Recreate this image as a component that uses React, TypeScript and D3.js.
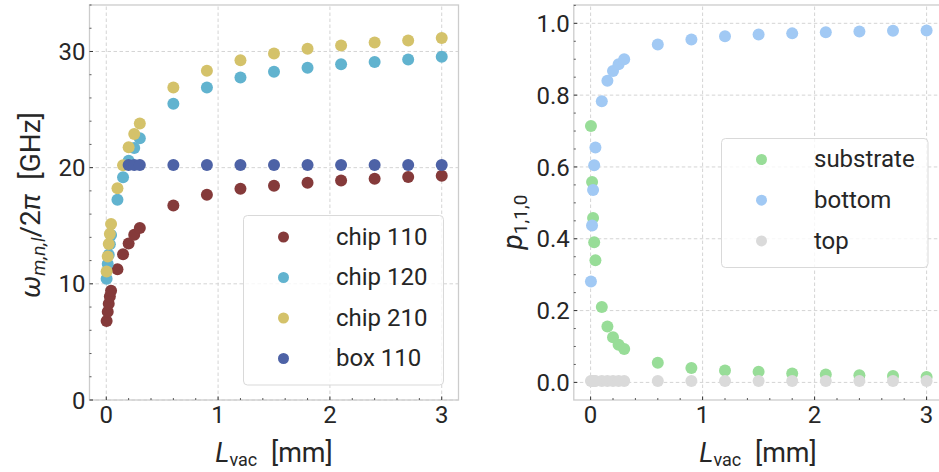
import React from "react";
import * as d3 from "d3";

const L_VAC = [0.003, 0.013, 0.022, 0.032, 0.043, 0.1, 0.15, 0.2, 0.25, 0.3, 0.6, 0.9, 1.2, 1.5, 1.8, 2.1, 2.4, 2.7, 3.0];
const L_VAC_BOX = [0.2, 0.25, 0.3, 0.6, 0.9, 1.2, 1.5, 1.8, 2.1, 2.4, 2.7, 3.0];

const chip110 = [6.81, 7.59, 8.28, 8.91, 9.4, 11.26, 12.55, 13.48, 14.22, 14.8, 16.75, 17.67, 18.19, 18.45, 18.7, 18.9, 19.05, 19.2, 19.31];
const chip120 = [10.43, 11.7, 12.5, 13.4, 14.2, 17.24, 19.17, 20.6, 21.7, 22.53, 25.5, 26.9, 27.75, 28.25, 28.6, 28.9, 29.1, 29.3, 29.54];
const chip210 = [11.06, 12.36, 13.42, 14.28, 15.14, 18.22, 20.2, 21.75, 22.9, 23.8, 26.9, 28.35, 29.25, 29.83, 30.23, 30.52, 30.78, 30.95, 31.15];
const box110 = [20.23, 20.23, 20.23, 20.23, 20.23, 20.23, 20.23, 20.23, 20.23, 20.23, 20.23, 20.23];

const substrate = [0.714, 0.558, 0.458, 0.39, 0.34, 0.21, 0.156, 0.126, 0.105, 0.093, 0.055, 0.04, 0.033, 0.03, 0.025, 0.022, 0.02, 0.018, 0.015];
const bottom = [0.281, 0.437, 0.536, 0.605, 0.654, 0.783, 0.84, 0.867, 0.886, 0.9, 0.941, 0.955, 0.964, 0.969, 0.972, 0.975, 0.977, 0.979, 0.98];
const top = [0.004, 0.004, 0.004, 0.004, 0.004, 0.004, 0.004, 0.004, 0.004, 0.004, 0.004, 0.004, 0.004, 0.004, 0.004, 0.004, 0.004, 0.004, 0.004];

const leftNames = ["chip 110", "chip 120", "chip 210", "box 110"];
const rightNames = ["substrate", "bottom", "top"];
const xTicks = [0, 1, 2, 3];
const leftYTicks = [0, 10, 20, 30];
const rightYTicks = [0, 0.2, 0.4, 0.6, 0.8, 1.0];

const FONT = "Roboto, 'DejaVu Sans', sans-serif";
const FS = 24;
const TXT = "#262626";
const GRID = "#d4d4d4";
const SPINE = "#cccccc";
const R = 6;

const leftColors = ["#853a3a", "#61b3cf", "#d4c26a", "#4d62a6"];
const rightColors = ["#98dd98", "#a1c9f4", "#dadada"];

function Panel({ x, y, xTicksMinor, yTicksMinor, yTicks, yFmt, children }: any) {
  const [x0, x1] = x.range();
  const [y0, y1] = y.range();
  return (
    <g>
      {xTicks.map((t) => (
        <line key={"gx" + t} x1={x(t)} x2={x(t)} y1={y0} y2={y1} stroke={GRID} strokeWidth={1} strokeDasharray="3.5,2.5" />
      ))}
      {yTicks.map((t: number) => (
        <line key={"gy" + t} x1={x0} x2={x1} y1={y(t)} y2={y(t)} stroke={GRID} strokeWidth={1} strokeDasharray="3.5,2.5" />
      ))}
      <rect x={x0} y={y1} width={x1 - x0} height={y0 - y1} fill="none" stroke={SPINE} strokeWidth={1.3} />
      {xTicks.map((t) => (
        <g key={"tx" + t}>
          <line x1={x(t)} x2={x(t)} y1={y0} y2={y0 - 3.5} stroke="#333" strokeWidth={1} />
          <text x={x(t)} y={y0 + 23} textAnchor="middle" fontSize={FS} fill={TXT} fontFamily={FONT}>{t}</text>
        </g>
      ))}
      {xTicksMinor.map((t: number) => (
        <line key={"mx" + t} x1={x(t)} x2={x(t)} y1={y0} y2={y0 - 2} stroke="#333" strokeWidth={0.8} />
      ))}
      {yTicks.map((t: number) => (
        <g key={"ty" + t}>
          <line x1={x0} x2={x0 + 3.5} y1={y(t)} y2={y(t)} stroke="#333" strokeWidth={1} />
          <text x={x0 - 4} y={y(t)} dy="0.36em" textAnchor="end" fontSize={FS} fill={TXT} fontFamily={FONT}>{yFmt(t)}</text>
        </g>
      ))}
      {yTicksMinor.map((t: number) => (
        <line key={"my" + t} x1={x0} x2={x0 + 2} y1={y(t)} y2={y(t)} stroke="#333" strokeWidth={0.8} />
      ))}
      {children}
    </g>
  );
}

function Legend({ x, y, w, h, names, colors, mx, tx, y0, dy }: any) {
  return (
    <g>
      <rect x={x} y={y} width={w} height={h} rx={4} fill="white" fillOpacity={0.8} stroke="#d9d9d9" strokeWidth={1} />
      {names.map((n: string, i: number) => (
        <g key={n}>
          <circle cx={mx} cy={y0 + i * dy} r={5.5} fill={colors[i]} />
          <text x={tx} y={y0 + i * dy} dy="0.33em" fontSize={FS} fill={TXT} fontFamily={FONT}>{n}</text>
        </g>
      ))}
    </g>
  );
}

export default function App() {
  const xL = d3.scaleLinear().domain([-0.15, 3.15]).range([89.5, 458.5]);
  const yL = d3.scaleLinear().domain([0, 34]).range([400, 5]);
  const xR = d3.scaleLinear().domain([-0.15, 3.15]).range([573.8, 943.4]);
  const yR = d3.scaleLinear().domain([-0.049, 1.051]).range([400, 5]);

  const minorX = d3.range(0, 3.15, 0.2).filter((v) => Math.abs(v - Math.round(v)) > 1e-6);
  const minorYL = d3.range(0, 34.01, 2).filter((v) => v % 10 !== 0);
  const minorYR = d3.range(0, 1.06, 0.05).filter((v) => Math.abs(v * 5 - Math.round(v * 5)) > 1e-6);

  const leftSeries = [
    { xs: L_VAC, ys: chip110 },
    { xs: L_VAC, ys: chip120 },
    { xs: L_VAC, ys: chip210 },
    { xs: L_VAC_BOX, ys: box110 },
  ];
  const rightSeries = [
    { xs: L_VAC, ys: substrate },
    { xs: L_VAC, ys: bottom },
    { xs: L_VAC, ys: top },
  ];

  return (
    <svg width={939} height={472} style={{ display: "block", position: "absolute", left: 0, top: 0, background: "white" }}>
      <style>{`body{margin:0}`}</style>
      <rect width={939} height={472} fill="white" />
      <Panel x={xL} y={yL} xTicksMinor={minorX} yTicksMinor={minorYL} yTicks={leftYTicks} yFmt={(t: number) => String(t)}>
        {leftSeries.map((s, i) =>
          s.xs.map((xv, j) => <circle key={i + "-" + j} cx={xL(xv)} cy={yL(s.ys[j])} r={R} fill={leftColors[i]} />)
        )}
        <Legend x={243.5} y={215.5} w={200} h={169.5} names={leftNames} colors={leftColors} mx={283.5} tx={336} y0={237} dy={40.5} />
      </Panel>
      <Panel x={xR} y={yR} xTicksMinor={minorX} yTicksMinor={minorYR} yTicks={rightYTicks} yFmt={(t: number) => t.toFixed(1)}>
        {rightSeries.map((s, i) =>
          s.xs.map((xv, j) => <circle key={i + "-" + j} cx={xR(xv)} cy={yR(s.ys[j])} r={R} fill={rightColors[i]} />)
        )}
        <Legend x={721.5} y={138.5} w={206.5} h={129} names={rightNames} colors={rightColors} mx={761.5} tx={814} y0={159.5} dy={40.7} />
      </Panel>
      {/* x labels */}
      {[xL, xR].map((sc, i) => {
        const [a, b] = sc.range();
        const cx = i === 0 ? (a + b) / 2 : 758;
        return (
          <text key={"xl" + i} x={cx} y={461.5} textAnchor="middle" fontSize={27} fill={TXT} fontFamily={FONT}>
            <tspan fontStyle="italic">L</tspan>
            <tspan fontSize={18} dy={4}>vac</tspan>
            <tspan dy={-4}>{"\u2002[mm]"}</tspan>
          </text>
        );
      })}
      {/* left y label */}
      <text transform="translate(40,205) rotate(-90)" textAnchor="middle" fontSize={28} fill={TXT} fontFamily={FONT}>
        <tspan fontStyle="italic">ω</tspan>
        <tspan fontSize={19} dy={5} fontStyle="italic">m,n,l</tspan>
        <tspan dy={-5}>/2</tspan>
        <tspan fontStyle="italic">π</tspan>
        <tspan>{"\u2002[GHz]"}</tspan>
      </text>
      {/* right y label */}
      <text transform="translate(522,222) rotate(-90)" textAnchor="middle" fontSize={28} fill={TXT} fontFamily={FONT}>
        <tspan fontStyle="italic">p</tspan>
        <tspan fontSize={19} dy={5}>1,1,0</tspan>
      </text>
    </svg>
  );
}
